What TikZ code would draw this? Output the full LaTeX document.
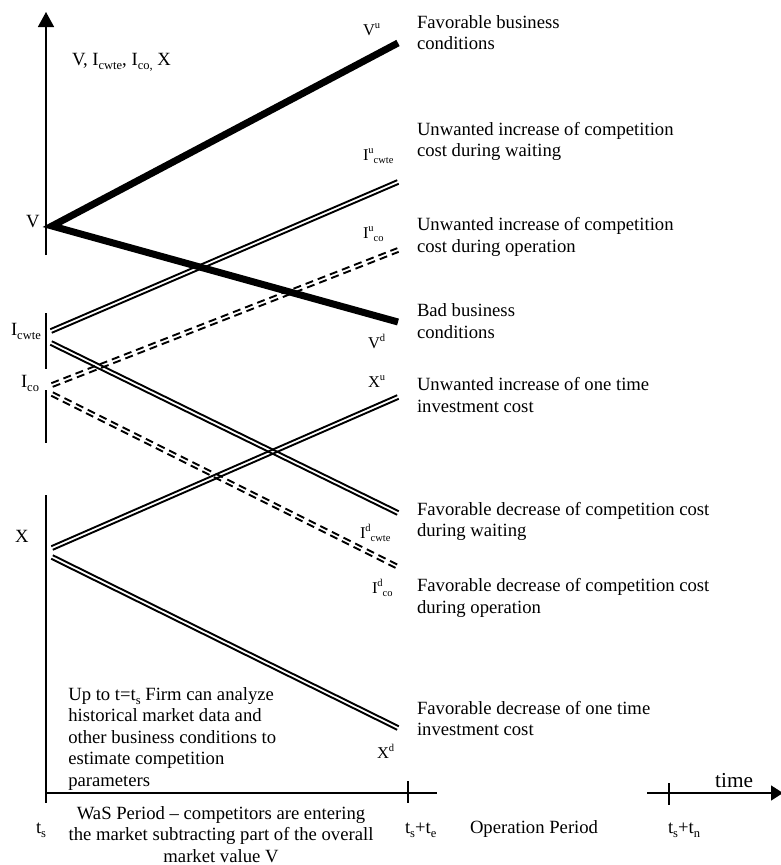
\documentclass[tikz,border=0pt]{standalone}
\usepackage{fontspec}
\setmainfont{Liberation Serif}
\usetikzlibrary{arrows.meta,calc}
\newcommand{\lsb}[2][12.5]{\raisebox{-0.22em}{\fontsize{#1}{#1}\selectfont #2}}
\newcommand{\lsp}[2][11]{\raisebox{0.42em}{\fontsize{#1}{#1}\selectfont #2}}
\newcommand{\mainfs}{\fontsize{18.67}{21.5}\selectfont}
\newcommand{\lblfs}{\fontsize{16.5}{18}\selectfont}
% two parallel lines between two named coordinates
\newcommand{\twin}[3]{%
  \draw[#3] ($(#1)!1.95pt!90:(#2)$) -- ($(#2)!1.95pt!-90:(#1)$);
  \draw[#3] ($(#1)!1.95pt!-90:(#2)$) -- ($(#2)!1.95pt!90:(#1)$);}
\tikzset{
  axisline/.style={line width=1.5pt, black},
  thickline/.style={line width=7pt, black, line join=miter},
  dline/.style={line width=1.9pt, black},
  ddline/.style={dline, dash pattern=on 8pt off 5pt},
  txt/.style={inner sep=0pt, outer sep=0pt, font=\mainfs},
  lbl/.style={inner sep=0pt, outer sep=0pt, font=\lblfs},
}
\begin{document}
\begin{tikzpicture}[x=1pt,y=-1pt]
\useasboundingbox (0,0) rectangle (781,865);

% ---------- axes ----------
\coordinate (ya1) at (46,255); \coordinate (ya1t) at (46,12);
\coordinate (ya2) at (46,313); \coordinate (ya2b) at (46,369);
\coordinate (ya3) at (46,390); \coordinate (ya3b) at (46,443);
\coordinate (ya4) at (46,495); \coordinate (ya4b) at (46,803);
\draw[axisline, -{Triangle[length=15pt,width=16pt]}] (ya1) -- (ya1t);
\draw[axisline] (ya2) -- (ya2b);
\draw[axisline] (ya3) -- (ya3b);
\draw[axisline] (ya4) -- (ya4b);

\coordinate (xa0) at (45,793); \coordinate (xa1) at (437,793);
\coordinate (tk1a) at (408,781); \coordinate (tk1b) at (408,803);
\coordinate (xa2) at (647,793); \coordinate (xa3) at (783,793);
\coordinate (tk2a) at (669,783); \coordinate (tk2b) at (669,805);
\draw[axisline] (xa0) -- (xa1);
\draw[axisline] (tk1a) -- (tk1b);
\draw[axisline, -{Triangle[length=12pt,width=15pt]}] (xa2) -- (xa3);
\draw[axisline] (tk2a) -- (tk2b);

% ---------- curves ----------
\coordinate (V0) at (52,226);
\coordinate (Vu) at (398,43);
\coordinate (Vd) at (398,322);
\draw[thickline] (Vu) -- (V0) -- (Vd);

\coordinate (Icw0u) at (51,331); \coordinate (Icwu) at (398,182);
\coordinate (Icw0d) at (51,343); \coordinate (Icwd) at (398,513);
\twin{Icw0u}{Icwu}{dline}
\twin{Icw0d}{Icwd}{dline}

\coordinate (Ico0u) at (52,385); \coordinate (Icou) at (398,250);
\coordinate (Ico0d) at (52,394); \coordinate (Icod) at (398,567);
\twin{Ico0u}{Icou}{ddline}
\twin{Ico0d}{Icod}{ddline}

\coordinate (X0u) at (52,548); \coordinate (Xu) at (398,397);
\coordinate (X0d) at (52,557); \coordinate (Xd) at (398,728);
\twin{X0u}{Xu}{dline}
\twin{X0d}{Xd}{dline}

% ---------- left labels ----------
\node[txt, anchor=base west] (ttl) at (72,65) {V, I\lsb{cwte}, I\lsb{co,} X};
\node[txt, anchor=base west] (lV) at (26,227) {V};
\node[txt, anchor=base west] (lIcw) at (11,335) {I\lsb{cwte}};
\node[txt, anchor=base west] (lIco) at (21,387) {I\lsb{co}};
\node[txt, anchor=base west] (lX) at (15,542) {X};

% ---------- end labels ----------
\node[lbl, anchor=base west] (eVu) at (363,35) {V\lsp[10.5]{u}};
\node[lbl, anchor=base west] (eIcwu) at (363,160) {I\lsp[10.5]{u}\lsb[10.5]{cwte}};
\node[lbl, anchor=base west] (eIcou) at (363,238) {I\lsp[10.5]{u}\lsb[10.5]{co}};
\node[lbl, anchor=base west] (eVd) at (368,348) {V\lsp[10.5]{d}};
\node[lbl, anchor=base west] (eXu) at (368,387) {X\lsp[10.5]{u}};
\node[lbl, anchor=base west] (eIcwd) at (360,538) {I\lsp[10.5]{d}\lsb[10.5]{cwte}};
\node[lbl, anchor=base west] (eIcod) at (372,593) {I\lsp[10.5]{d}\lsb[10.5]{co}};
\node[lbl, anchor=base west] (eXd) at (377,758) {X\lsp[10.5]{d}};

% ---------- right descriptions ----------
\node[txt, anchor=base west] (r1) at (417,28.3) {\begin{tabular}[t]{@{}l@{}}Favorable business\\conditions\end{tabular}};
\node[txt, anchor=base west] (r2) at (417,135) {\begin{tabular}[t]{@{}l@{}}Unwanted increase of competition\\cost during waiting\end{tabular}};
\node[txt, anchor=base west] (r3) at (417,230.7) {\begin{tabular}[t]{@{}l@{}}Unwanted increase of competition\\cost during operation\end{tabular}};
\node[txt, anchor=base west] (r4) at (417,316.7) {\begin{tabular}[t]{@{}l@{}}Bad business\\conditions\end{tabular}};
\node[txt, anchor=base west] (r5) at (417,390.7) {\begin{tabular}[t]{@{}l@{}}Unwanted increase of one time\\investment cost\end{tabular}};
\node[txt, anchor=base west] (r6) at (417,515) {\begin{tabular}[t]{@{}l@{}}Favorable decrease of competition cost\\during waiting\end{tabular}};
\node[txt, anchor=base west] (r7) at (417,591.7) {\begin{tabular}[t]{@{}l@{}}Favorable decrease of competition cost\\during operation\end{tabular}};
\node[txt, anchor=base west] (r8) at (417,714) {\begin{tabular}[t]{@{}l@{}}Favorable decrease of one time\\investment cost\end{tabular}};

% ---------- inner text ----------
\node[txt, anchor=base west] (hist) at (68.3,700) {\begin{tabular}[t]{@{}l@{}}Up to t=t\lsb{s} Firm can analyze\\historical market data and\\other business conditions to\\estimate competition\\parameters\end{tabular}};

% ---------- time axis labels ----------
\node[txt, anchor=base west] (ts) at (36,833) {t\lsb{s}};
\node[txt, anchor=base] (was) at (221,819) {\begin{tabular}[t]{@{}c@{}}WaS Period – competitors are entering\\the market subtracting part of the overall\\market value V\end{tabular}};
\node[txt, anchor=base west] (tste) at (405,833) {t\lsb{s}+t\lsb{e}};
\node[txt, anchor=base west] (op) at (470,833) {Operation Period};
\node[txt, anchor=base west] (tstn) at (668,833) {t\lsb{s}+t\lsb{n}};
\node[inner sep=0pt, font=\fontsize{21.3}{24}\selectfont, anchor=base west] (time) at (715,787) {time};
\end{tikzpicture}
\end{document}
